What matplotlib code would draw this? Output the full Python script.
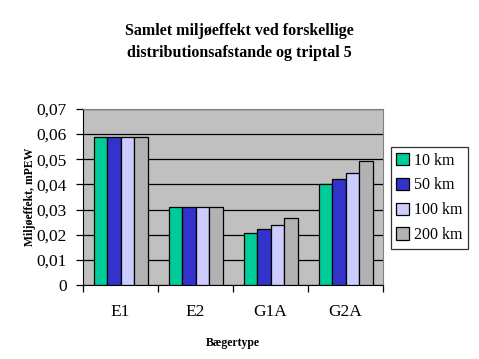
import matplotlib
matplotlib.use("Agg")
import matplotlib.pyplot as plt
import numpy as np
from matplotlib.ticker import FixedLocator, FuncFormatter

categories = ["E1", "E2", "G1A", "G2A"]
series_names = ["10 km", "50 km", "100 km", "200 km"]
values_10 = [0.0587, 0.0311, 0.0208, 0.0403]
values_50 = [0.0587, 0.0311, 0.0221, 0.0423]
values_100 = [0.0587, 0.0311, 0.0237, 0.0444]
values_200 = [0.0587, 0.0311, 0.0265, 0.0492]
colors = ["#00CC99", "#3333CC", "#CCCCFF", "#B2B2B2"]

plt.rcParams["font.family"] = ["Liberation Serif", "DejaVu Serif"]

fig = plt.figure(figsize=(4.79, 3.59), dpi=100)
ax = fig.add_axes([0.1733, 0.2061, 0.6263, 0.4903])
ax.set_facecolor("#C0C0C0")

x = np.arange(len(categories))
bar_w = 0.18
all_values = [values_10, values_50, values_100, values_200]
for i, (vals, name, col) in enumerate(zip(all_values, series_names, colors)):
    ax.bar(x + (i - 1.5) * bar_w, vals, bar_w, color=col, edgecolor="black",
           linewidth=0.9, label=name, zorder=3)

ax.set_xlim(-0.5, 3.5)
ax.set_ylim(0, 0.07)
ax.set_yticks(np.arange(0, 0.0701, 0.01))
ax.yaxis.set_major_formatter(FuncFormatter(lambda v, p: "0" if abs(v) < 1e-9 else f"{v:.2f}".replace(".", ",")))
ax.yaxis.grid(True, color="black", linewidth=0.9, zorder=1)
ax.set_axisbelow(True)

ax.set_xticks(x)
ax.set_xticklabels(categories, fontsize=12.5)
ax.tick_params(axis="x", length=0, pad=14)
ax.xaxis.set_minor_locator(FixedLocator(np.arange(-0.5, 3.6, 1)))
ax.tick_params(axis="x", which="minor", length=5, width=0.9, direction="out")
ax.tick_params(axis="y", length=5, width=0.9, direction="out", labelsize=12.5, pad=6.5)

ax.spines["left"].set_color("black")
ax.spines["bottom"].set_color("black")
ax.spines["top"].set_color("#808080")
ax.spines["right"].set_color("#808080")

ax.set_ylabel("Miljøeffekt, mPEW", fontsize=8.5, fontweight="bold", labelpad=0.5)
ax.set_xlabel("Bægertype", fontsize=8.5, fontweight="bold", labelpad=12)

fig.text(0.5, 0.883, "Samlet miljøeffekt ved forskellige\ndistributionsafstande og triptal 5",
         ha="center", va="center", fontsize=11.5, fontweight="bold", linespacing=1.45)

leg = ax.legend(loc="center left", bbox_to_anchor=(1.005, 0.495), frameon=True, fancybox=False,
                fontsize=11.5, handlelength=0.8, handleheight=0.8, handletextpad=0.3,
                borderpad=0.35, labelspacing=0.55, borderaxespad=0.4)
leg.get_frame().set_edgecolor("black")
leg.get_frame().set_linewidth(0.9)

fig.savefig("out.png", dpi=100)
